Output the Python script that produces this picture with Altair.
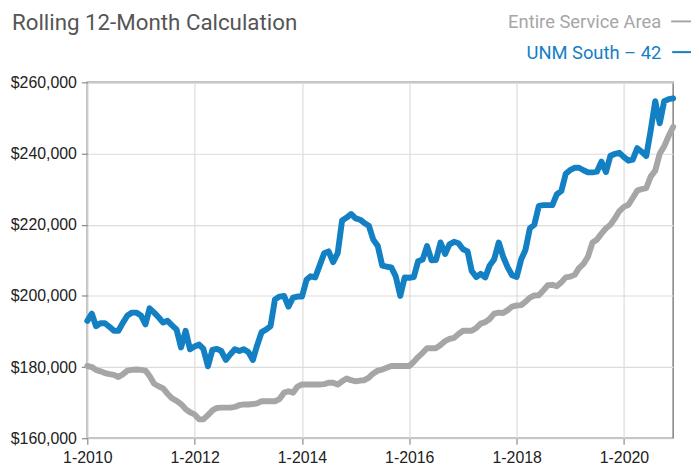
import altair as alt
import pandas as pd

# Monthly rolling 12-month values, Jan 2010 .. Dec 2020 (thousands of $)
unm_south = [
    193.0, 195.0, 191.5, 192.3, 192.3, 191.3, 190.2, 190.2, 192.5, 194.5, 195.3, 195.3,
    194.5, 192.0, 196.5, 195.3, 194.0, 192.5, 193.0, 191.7, 190.5, 185.5, 190.2, 185.0,
    185.8, 186.3, 185.1, 180.2, 184.8, 185.1, 184.5, 182.0, 183.6, 185.0, 184.5, 185.0,
    184.2, 182.0, 186.0, 189.8, 190.5, 191.5, 199.0, 199.8, 200.0, 197.0, 199.5, 199.8,
    199.8, 204.5, 205.5, 205.2, 208.5, 212.0, 212.5, 209.5, 212.0, 221.2, 222.0, 223.0,
    221.8, 221.4, 220.5, 219.7, 215.8, 214.0, 208.5, 208.2, 208.0, 205.5, 200.0, 205.2,
    205.1, 205.3, 209.7, 210.2, 214.0, 210.0, 210.1, 215.0, 211.8, 214.5, 215.2, 214.8,
    213.1, 212.5, 207.0, 205.3, 206.2, 205.2, 208.5, 210.3, 215.0, 211.0, 208.0, 205.8,
    205.3, 210.3, 212.8, 219.0, 220.0, 225.3, 225.5, 225.5, 225.5, 228.5, 229.5, 234.3,
    235.4, 236.0, 236.0, 235.3, 234.7, 234.7, 234.9, 237.7, 234.8, 239.4, 239.9, 240.2,
    239.0, 238.0, 238.3, 241.5, 240.5, 239.3, 246.5, 254.7, 248.5, 254.7, 255.3, 255.5,
]
entire_area = [
    180.3, 180.0, 179.2, 178.8, 178.3, 178.0, 177.8, 177.2, 178.0, 179.0, 179.2, 179.3,
    179.2, 179.0, 177.5, 175.3, 174.6, 174.0, 172.5, 171.2, 170.5, 169.6, 168.2, 167.3,
    166.7, 165.3, 165.3, 166.5, 167.8, 168.5, 168.6, 168.6, 168.6, 168.8, 169.3, 169.5,
    169.5, 169.6, 169.8, 170.4, 170.4, 170.4, 170.4, 171.0, 172.8, 173.2, 172.8, 174.5,
    175.1, 175.1, 175.1, 175.1, 175.1, 175.2, 175.6, 175.6, 175.1, 176.0, 176.8, 176.3,
    176.0, 176.2, 176.3, 177.0, 178.2, 179.0, 179.3, 179.8, 180.3, 180.3, 180.3, 180.3,
    180.3, 181.5, 182.8, 184.0, 185.3, 185.3, 185.3, 186.2, 187.3, 187.9, 188.2, 189.3,
    190.2, 190.2, 190.2, 191.0, 192.2, 192.6, 193.5, 195.0, 195.3, 195.2, 196.0, 197.0,
    197.3, 197.4, 198.3, 199.5, 200.1, 200.2, 201.5, 203.0, 203.1, 202.7, 203.8, 205.2,
    205.4, 206.0, 207.8, 209.0, 211.0, 215.0, 215.8, 217.5, 219.0, 220.0, 221.8, 223.8,
    225.0, 225.6, 227.5, 229.6, 230.0, 230.3, 233.5, 235.2, 240.0, 242.0, 245.0, 247.5,
]
series_names = ["Entire Service Area", "UNM South \u2013 42"]
series_colors = ["#a6a6a6", "#1380c4"]
y_ticks = [160000, 180000, 200000, 220000, 240000, 260000]
x_tick_years = [2010, 2012, 2014, 2016, 2018, 2020]
title_text = "Rolling 12-Month Calculation"

months = pd.date_range("2010-01-01", "2020-12-01", freq="MS")
df = pd.concat([
    pd.DataFrame({"date": months, "value": [v * 1000 for v in entire_area],
                  "series": series_names[0], "order": 0}),
    pd.DataFrame({"date": months, "value": [v * 1000 for v in unm_south],
                  "series": series_names[1], "order": 1}),
])

x_vals = [alt.DateTime(year=y, month=1, date=1) for y in x_tick_years]

W, H = 591, 359
LABEL_FONT = "Liberation Sans, Arial, sans-serif"
NARROW = "Roboto, sans-serif"

lines = alt.Chart(df).mark_line(strokeWidth=6, strokeJoin="round", strokeCap="round").encode(
    x=alt.X("date:T",
            scale=alt.Scale(domain=[alt.DateTime(year=2010, month=1, date=1),
                                    alt.DateTime(year=2020, month=12, date=1)]),
            axis=alt.Axis(values=x_vals, format="%-m-%Y", title=None, grid=True,
                          gridColor="#dcdcdc", gridWidth=1.2, domain=False,
                          tickColor="#8a8a8a", tickSize=6, tickWidth=1.2,
                          labelFont=LABEL_FONT, labelFontSize=16, labelColor="#222",
                          labelPadding=5, labelFlush=False)),
    y=alt.Y("value:Q", scale=alt.Scale(domain=[160000, 260000], nice=False),
            axis=alt.Axis(values=y_ticks, format="$,.0f", title=None, grid=True,
                          gridColor="#dcdcdc", gridWidth=1.2, domain=False,
                          tickColor="#8a8a8a", tickSize=6, tickWidth=1.2,
                          labelFont=LABEL_FONT, labelFontSize=16, labelColor="#222",
                          labelPadding=5)),
    color=alt.Color("series:N", scale=alt.Scale(domain=series_names, range=series_colors),
                    legend=None),
    detail="series:N",
    order="order:Q",
)

legend_df = pd.DataFrame({"name": series_names, "color": series_colors})

legend_text0 = alt.Chart(legend_df.iloc[[0]]).mark_text(
    align="right", baseline="alphabetic", font=NARROW, fontSize=18.5, color=series_colors[0]
).encode(text="name:N", x=alt.value(579), y=alt.value(-55))
legend_text1 = alt.Chart(legend_df.iloc[[1]]).mark_text(
    align="right", baseline="alphabetic", font=NARROW, fontSize=18.5, color=series_colors[1]
).encode(text="name:N", x=alt.value(579), y=alt.value(-24))
legend_line0 = alt.Chart(legend_df.iloc[[0]]).mark_rule(
    color=series_colors[0], strokeWidth=2
).encode(x=alt.value(589), x2=alt.value(611), y=alt.value(-61.5))
legend_line1 = alt.Chart(legend_df.iloc[[1]]).mark_rule(
    color=series_colors[1], strokeWidth=2
).encode(x=alt.value(590), x2=alt.value(611), y=alt.value(-30.5))

title = alt.Chart(pd.DataFrame({"t": [title_text]})).mark_text(
    align="left", baseline="alphabetic", font=NARROW, fontSize=22.5, color="#555555"
).encode(text="t:N", x=alt.value(-76), y=alt.value(-53))

chart = alt.layer(
    lines, legend_text0, legend_text1, legend_line0, legend_line1, title
).properties(
    width=W, height=H,
    autosize=alt.AutoSizeParams(type="none"),
    padding={"left": 80, "top": 73, "right": 18, "bottom": 25},
).configure_view(
    stroke="#8a8a8a", strokeWidth=1.6
)

chart.save("out.html", embed_options={"renderer": "svg", "actions": False})
